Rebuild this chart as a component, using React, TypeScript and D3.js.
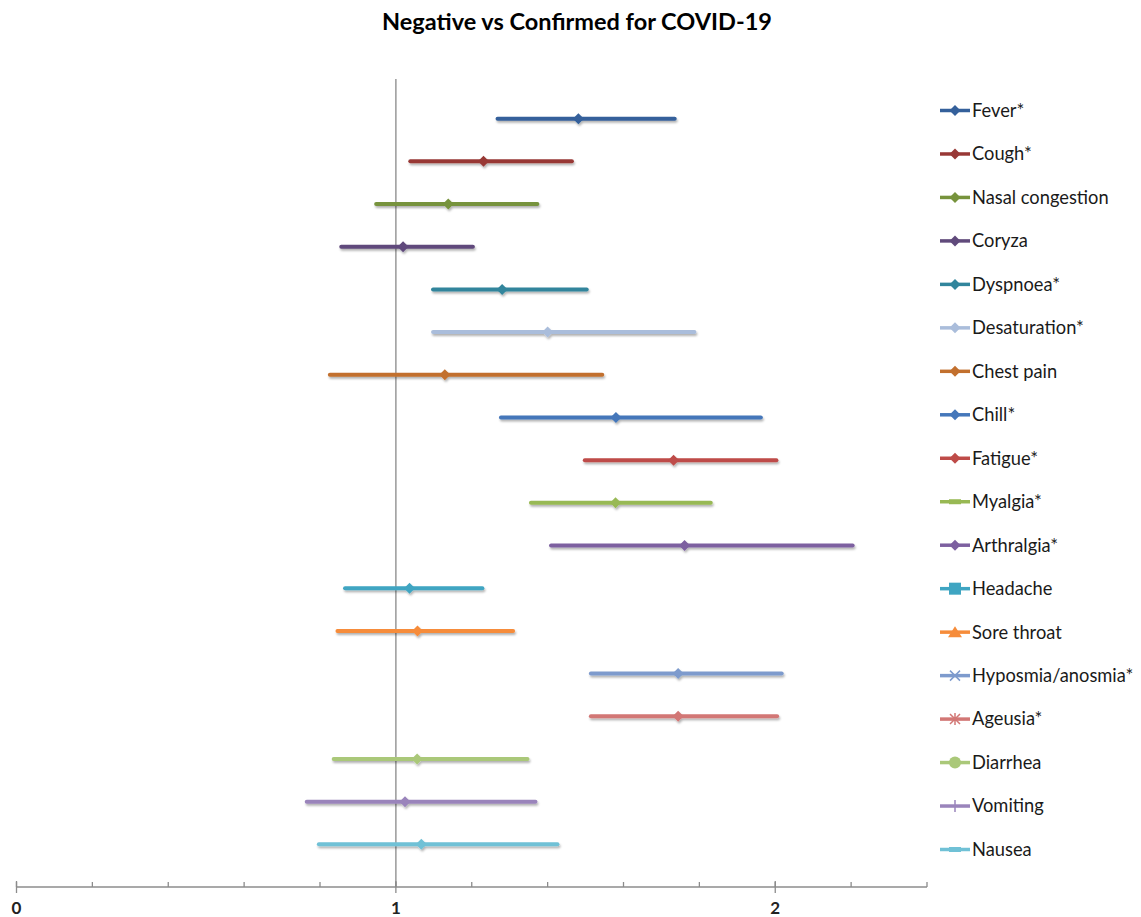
import React from 'react';
import * as d3 from 'd3';

const symptoms = [
  'Fever*', 'Cough*', 'Nasal congestion', 'Coryza', 'Dyspnoea*', 'Desaturation*',
  'Chest pain', 'Chill*', 'Fatigue*', 'Myalgia*', 'Arthralgia*', 'Headache',
  'Sore throat', 'Hyposmia/anosmia*', 'Ageusia*', 'Diarrhea', 'Vomiting', 'Nausea',
];
const lower = [1.268, 1.038, 0.948, 0.856, 1.098, 1.098, 0.826, 1.277, 1.498, 1.356, 1.409, 0.866, 0.846, 1.514, 1.514, 0.836, 0.765, 0.797];
const estimate = [1.481, 1.231, 1.138, 1.019, 1.280, 1.400, 1.129, 1.580, 1.732, 1.579, 1.761, 1.036, 1.057, 1.744, 1.744, 1.056, 1.024, 1.067];
const upper = [1.735, 1.464, 1.373, 1.203, 1.503, 1.787, 1.544, 1.962, 2.003, 1.830, 2.204, 1.228, 1.309, 2.017, 2.005, 1.347, 1.368, 1.426];
const colors = [
  '#34609b', '#983836', '#77933c', '#604a7b', '#31859c', '#aabddb',
  '#c2702e', '#4577ba', '#be4b48', '#98b954', '#7d60a0', '#3fa5c2',
  '#f68c3a', '#7e9bcd', '#d27775', '#aac879', '#9a84bb', '#70c1d6',
];
const legendMarkers = [
  'diamond', 'diamond', 'diamond', 'diamond', 'diamond', 'diamond',
  'diamond', 'diamond', 'diamond', 'dash', 'diamond', 'square',
  'triangle', 'x', 'star', 'circle', 'plus', 'dash',
];
const xTickLabels = [0, 1, 2];

const W = 1141;
const H = 917;

function Marker({ kind, x, y, color }: { kind: string; x: number; y: number; color: string }) {
  const s = 5.5;
  switch (kind) {
    case 'diamond':
      return <path d={`M${x},${y - s}L${x + s},${y}L${x},${y + s}L${x - s},${y}Z`} fill={color} />;
    case 'square':
      return <rect x={x - 6} y={y - 6} width={12} height={12} fill={color} />;
    case 'triangle':
      return <path d={`M${x},${y - 6}L${x + 7},${y + 5}L${x - 7},${y + 5}Z`} fill={color} />;
    case 'circle':
      return <circle cx={x} cy={y} r={6} fill={color} />;
    case 'x':
      return (
        <path d={`M${x - 5},${y - 5}L${x + 5},${y + 5}M${x - 5},${y + 5}L${x + 5},${y - 5}`}
          stroke={color} strokeWidth={1.5} />
      );
    case 'star':
      return (
        <path d={`M${x - 5},${y - 5}L${x + 5},${y + 5}M${x - 5},${y + 5}L${x + 5},${y - 5}M${x},${y - 6}L${x},${y + 6}`}
          stroke={color} strokeWidth={1.5} />
      );
    case 'plus':
      return <path d={`M${x},${y - 6}L${x},${y + 6}`} stroke={color} strokeWidth={1.5} />;
    case 'dash':
      return <rect x={x - 6} y={y - 2.5} width={12} height={5} fill={color} />;
    default:
      return null;
  }
}

export default function App() {
  const x = d3.scaleLinear().domain([0, 2.4]).range([16.5, 927]);
  const y = d3.scaleLinear().domain([0, 19]).range([887, 76]);
  const n = symptoms.length;
  const rowY = (i: number) => y(n - i);

  const legendY = d3.scaleLinear().domain([0, n - 1]).range([110.5, 849.5]);
  const minorTicks = d3.range(0, 13).map((i) => i * 0.2);
  const font = 'Lato, "Open Sans", sans-serif';

  return (
    <svg width={W} height={H} style={{ position: 'absolute', left: 0, top: 0, background: '#fff' }}>
      <defs>
        <filter id="sh" x="-10%" y="-100%" width="120%" height="400%">
          <feDropShadow dx={1} dy={2} stdDeviation={1.2} floodColor="#000" floodOpacity={0.3} />
        </filter>
      </defs>

      <text x={577} y={30} textAnchor="middle" fontFamily={font} fontWeight="bold" fontSize={23.5} fill="#000">
        Negative vs Confirmed for COVID-19
      </text>

      {/* reference line at 1 */}
      <line x1={x(1)} x2={x(1)} y1={y(0)} y2={79} stroke="#999" strokeWidth={1.5} />

      {/* x axis */}
      <g stroke="#8c8c8c" strokeWidth={1.3}>
        <line x1={x(0)} x2={x(2.4)} y1={y(0)} y2={y(0)} />
        {minorTicks.map((t) => (
          <line key={t} x1={x(t)} x2={x(t)} y1={y(0)} y2={y(0) - 5} />
        ))}
        {xTickLabels.map((t) => (
          <line key={'M' + t} x1={x(t)} x2={x(t)} y1={y(0) - 6} y2={y(0) + 6} />
        ))}
      </g>
      {xTickLabels.map((t) => (
        <text key={'l' + t} x={x(t)} y={y(0) + 21} dy="0.35em" textAnchor="middle" fontFamily={font}
          fontWeight="bold" fontSize={17} fill="#222">
          {t}
        </text>
      ))}

      {/* intervals */}
      {symptoms.map((s, i) => (
        <g key={s} filter="url(#sh)">
          <line x1={x(lower[i])} x2={x(upper[i])} y1={rowY(i)} y2={rowY(i)}
            stroke={colors[i]} strokeWidth={4} strokeLinecap="round" />
          <Marker kind="diamond" x={x(estimate[i])} y={rowY(i)} color={colors[i]} />
        </g>
      ))}

      {/* legend */}
      {symptoms.map((s, i) => (
        <g key={'leg' + s}>
          <line x1={940} x2={970} y1={legendY(i)} y2={legendY(i)} stroke={colors[i]} strokeWidth={3.5} />
          <Marker kind={legendMarkers[i]} x={955} y={legendY(i)} color={colors[i]} />
          <text x={972} y={legendY(i)} dy="0.35em" fontFamily={font} fontSize={18.3} fill="#1a1a1a">
            {s}
          </text>
        </g>
      ))}
    </svg>
  );
}
